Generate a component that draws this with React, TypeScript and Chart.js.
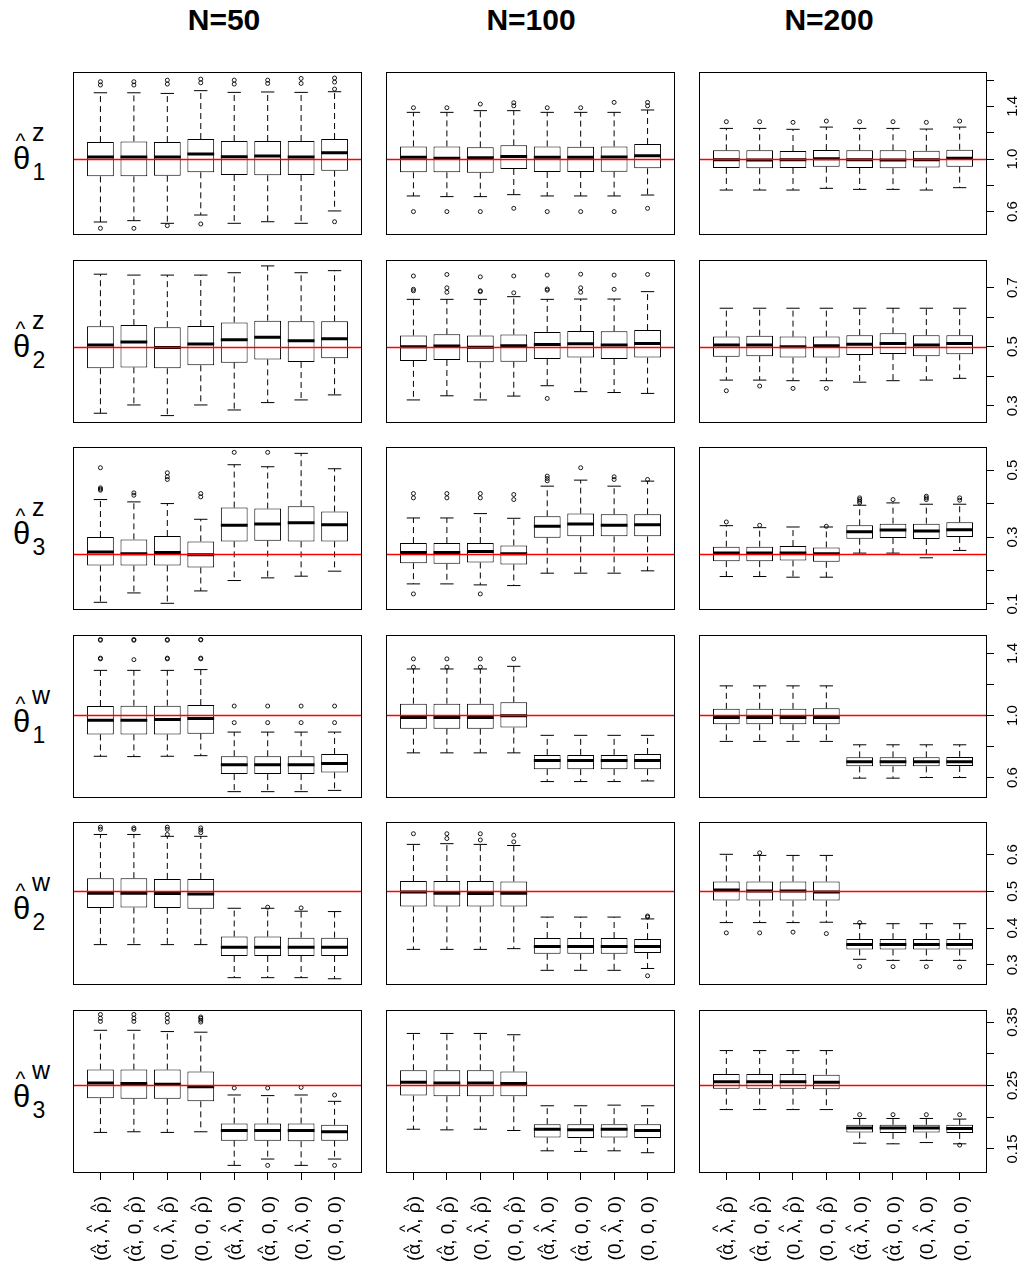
import React, { useEffect, useRef } from "react";
import { Chart, registerables } from "chart.js";
Chart.register(...registerables);

const FONT = '"Liberation Sans", Arial, Helvetica, sans-serif';

// ---------- text ----------
const categories = [
  "(\u03B1\u0302, \u03BB\u0302, \u03C1\u0302)",
  "(\u03B1\u0302, 0, \u03C1\u0302)",
  "(0, \u03BB\u0302, \u03C1\u0302)",
  "(0, 0, \u03C1\u0302)",
  "(\u03B1\u0302, \u03BB\u0302, 0)",
  "(\u03B1\u0302, 0, 0)",
  "(0, \u03BB\u0302, 0)",
  "(0, 0, 0)",
];
const sampleSizes = ["N=50", "N=100", "N=200"];
const rowSup = ["z", "z", "z", "w", "w", "w"];
const rowSub = ["1", "2", "3", "1", "2", "3"];
const trueValues = [1.0, 0.5, 0.25, 1.0, 0.5, 0.25];

// ---------- axes ----------
const yRanges = [
  [0.422, 1.662],
  [0.242, 0.793],
  [0.082, 0.569],
  [0.468, 1.519],
  [0.245, 0.689],
  [0.112, 0.369],
];
const yTicks = [
  [0.6, 0.8, 1.0, 1.2, 1.4, 1.6],
  [0.3, 0.4, 0.5, 0.6, 0.7],
  [0.1, 0.2, 0.3, 0.4, 0.5],
  [0.6, 0.8, 1.0, 1.2, 1.4],
  [0.3, 0.4, 0.5, 0.6],
  [0.15, 0.2, 0.25, 0.3, 0.35],
];
const yTickLabels = [
  [0.6, 1.0, 1.4],
  [0.3, 0.5, 0.7],
  [0.1, 0.3, 0.5],
  [0.6, 1.0, 1.4],
  [0.3, 0.4, 0.5, 0.6],
  [0.15, 0.25, 0.35],
];
const yTickDigits = [1, 1, 1, 1, 1, 2];
const xPositions = [1, 2, 3, 4, 5, 6, 7, 8];

// ---------- data: [lower whisker, Q1, median, Q3, upper whisker] ----------
// theta1 z
const z1_N50 = [
  [0.521, 0.868, 1.015, 1.129, 1.504],
  [0.531, 0.868, 1.015, 1.134, 1.504],
  [0.511, 0.873, 1.015, 1.129, 1.499],
  [0.574, 0.899, 1.038, 1.152, 1.52],
  [0.511, 0.878, 1.018, 1.137, 1.507],
  [0.523, 0.876, 1.023, 1.137, 1.51],
  [0.511, 0.878, 1.015, 1.137, 1.507],
  [0.605, 0.911, 1.048, 1.152, 1.512],
];
const z1_N50_out = [
  [1.588, 1.563, 0.473], [1.588, 1.563, 0.473], [1.6, 1.57, 0.493], [1.608, 1.58, 0.506],
  [1.6, 1.57], [1.6, 1.575], [1.613, 1.575], [1.616, 1.585, 1.532, 0.523],
];
const z1_N100 = [
  [0.719, 0.899, 1.013, 1.096, 1.355],
  [0.714, 0.899, 1.005, 1.096, 1.355],
  [0.714, 0.896, 1.01, 1.089, 1.368],
  [0.729, 0.924, 1.02, 1.104, 1.368],
  [0.719, 0.901, 1.013, 1.096, 1.355],
  [0.719, 0.901, 1.013, 1.094, 1.355],
  [0.719, 0.904, 1.015, 1.096, 1.355],
  [0.726, 0.929, 1.025, 1.114, 1.373],
];
const z1_N100_out = [
  [1.39, 0.6], [1.39, 0.6], [1.418, 0.6], [1.428, 1.405, 0.625],
  [1.39, 0.6], [1.39, 0.6], [1.431, 0.6], [1.431, 1.405, 0.625],
];
const z1_N200 = [
  [0.764, 0.932, 0.995, 1.066, 1.233],
  [0.764, 0.93, 0.993, 1.066, 1.233],
  [0.764, 0.932, 0.995, 1.061, 1.226],
  [0.777, 0.942, 1.003, 1.068, 1.243],
  [0.769, 0.932, 0.995, 1.066, 1.233],
  [0.769, 0.93, 0.993, 1.066, 1.233],
  [0.764, 0.935, 0.995, 1.063, 1.228],
  [0.782, 0.942, 1.005, 1.071, 1.243],
];
const z1_N200_out = [[1.284], [1.284], [1.279], [1.289], [1.284], [1.284], [1.279], [1.289]];

// theta2 z
const z2_N50 = [
  [0.275, 0.427, 0.506, 0.569, 0.745],
  [0.303, 0.43, 0.516, 0.573, 0.742],
  [0.267, 0.427, 0.497, 0.566, 0.742],
  [0.303, 0.437, 0.509, 0.57, 0.742],
  [0.286, 0.446, 0.523, 0.582, 0.75],
  [0.311, 0.457, 0.532, 0.588, 0.773],
  [0.32, 0.448, 0.52, 0.586, 0.75],
  [0.337, 0.461, 0.527, 0.586, 0.757],
];
const z2_N50_out = [[], [], [], [], [], [], [], []];
const z2_N100 = [
  [0.32, 0.452, 0.5, 0.538, 0.66],
  [0.334, 0.455, 0.502, 0.542, 0.66],
  [0.32, 0.447, 0.498, 0.538, 0.66],
  [0.333, 0.449, 0.503, 0.541, 0.669],
  [0.368, 0.458, 0.507, 0.55, 0.66],
  [0.348, 0.463, 0.51, 0.553, 0.661],
  [0.345, 0.458, 0.506, 0.552, 0.661],
  [0.342, 0.463, 0.511, 0.556, 0.686],
];
const z2_N100_out = [
  [0.739, 0.694, 0.689], [0.744, 0.699, 0.684], [0.736, 0.689, 0.686], [0.739, 0.682],
  [0.742, 0.695, 0.691, 0.325], [0.745, 0.699, 0.684], [0.742, 0.694], [0.744],
];
const z2_N200 = [
  [0.387, 0.466, 0.506, 0.534, 0.63],
  [0.387, 0.468, 0.506, 0.537, 0.63],
  [0.385, 0.463, 0.5, 0.534, 0.63],
  [0.385, 0.463, 0.503, 0.534, 0.63],
  [0.38, 0.472, 0.508, 0.539, 0.63],
  [0.385, 0.475, 0.511, 0.545, 0.63],
  [0.387, 0.468, 0.506, 0.539, 0.63],
  [0.393, 0.474, 0.511, 0.539, 0.63],
];
const z2_N200_out = [[0.351], [0.367], [0.359], [0.359], [], [], [], []];

// theta3 z
const z3_N50 = [
  [0.105, 0.215, 0.255, 0.3, 0.412],
  [0.133, 0.215, 0.25, 0.293, 0.405],
  [0.102, 0.215, 0.254, 0.303, 0.4],
  [0.139, 0.209, 0.247, 0.287, 0.353],
  [0.17, 0.287, 0.335, 0.388, 0.516],
  [0.178, 0.289, 0.339, 0.385, 0.51],
  [0.183, 0.287, 0.343, 0.392, 0.55],
  [0.198, 0.287, 0.337, 0.376, 0.504],
];
const z3_N50_out = [
  [0.507, 0.447, 0.443, 0.44], [0.432, 0.425], [0.492, 0.48, 0.472], [0.43, 0.42],
  [0.553], [0.553], [], [],
];
const z3_N100 = [
  [0.16, 0.222, 0.254, 0.282, 0.357],
  [0.16, 0.22, 0.254, 0.282, 0.357],
  [0.157, 0.224, 0.257, 0.282, 0.37],
  [0.155, 0.218, 0.25, 0.275, 0.356],
  [0.192, 0.298, 0.332, 0.362, 0.452],
  [0.192, 0.302, 0.339, 0.37, 0.47],
  [0.192, 0.302, 0.335, 0.368, 0.452],
  [0.199, 0.302, 0.337, 0.368, 0.467],
];
const z3_N100_out = [
  [0.43, 0.417, 0.13], [0.43, 0.417], [0.43, 0.417, 0.13], [0.427, 0.412],
  [0.482, 0.475, 0.468], [0.507], [0.48, 0.472], [0.472],
];
const z3_N200 = [
  [0.182, 0.228, 0.252, 0.271, 0.334],
  [0.182, 0.228, 0.252, 0.271, 0.328],
  [0.18, 0.23, 0.252, 0.273, 0.33],
  [0.18, 0.226, 0.25, 0.269, 0.33],
  [0.252, 0.295, 0.316, 0.335, 0.395],
  [0.252, 0.297, 0.321, 0.34, 0.402],
  [0.238, 0.294, 0.318, 0.34, 0.398],
  [0.26, 0.3, 0.322, 0.344, 0.398],
];
const z3_N200_out = [
  [0.345], [0.335], [], [0.332],
  [0.417, 0.412, 0.407, 0.402], [0.412], [0.422, 0.417, 0.412], [0.417, 0.41],
];

// theta1 w
const w1_N50 = [
  [0.737, 0.878, 0.97, 1.061, 1.291],
  [0.735, 0.878, 0.97, 1.063, 1.291],
  [0.737, 0.878, 0.974, 1.063, 1.291],
  [0.741, 0.883, 0.98, 1.067, 1.296],
  [0.509, 0.622, 0.683, 0.737, 0.893],
  [0.509, 0.622, 0.683, 0.737, 0.893],
  [0.509, 0.622, 0.683, 0.737, 0.893],
  [0.517, 0.633, 0.691, 0.752, 0.893],
];
const w1_N50_out = [
  [1.485, 1.49, 1.365, 1.37], [1.485, 1.49, 1.36], [1.485, 1.49, 1.365, 1.37], [1.487, 1.49, 1.365, 1.37],
  [1.061, 0.954], [1.061, 0.954], [1.061, 0.954], [1.061, 0.954],
];
const w1_N100 = [
  [0.759, 0.915, 0.987, 1.076, 1.3],
  [0.759, 0.915, 0.987, 1.076, 1.3],
  [0.759, 0.915, 0.987, 1.076, 1.3],
  [0.759, 0.922, 0.998, 1.085, 1.317],
  [0.574, 0.654, 0.709, 0.746, 0.872],
  [0.574, 0.654, 0.709, 0.746, 0.872],
  [0.574, 0.654, 0.709, 0.746, 0.872],
  [0.578, 0.654, 0.709, 0.752, 0.872],
];
const w1_N100_out = [[1.365, 1.312], [1.365, 1.312], [1.365, 1.312], [1.365], [], [], [], []];
const w1_N200 = [
  [0.833, 0.943, 0.987, 1.043, 1.191],
  [0.833, 0.943, 0.987, 1.043, 1.191],
  [0.833, 0.943, 0.987, 1.043, 1.191],
  [0.833, 0.943, 0.987, 1.046, 1.191],
  [0.596, 0.672, 0.702, 0.73, 0.811],
  [0.596, 0.672, 0.702, 0.73, 0.811],
  [0.6, 0.672, 0.702, 0.73, 0.811],
  [0.6, 0.674, 0.702, 0.733, 0.811],
];
const w1_N200_out = [[], [], [], [], [], [], [], []];

// theta2 w
const w2_N50 = [
  [0.355, 0.455, 0.495, 0.536, 0.655],
  [0.355, 0.456, 0.495, 0.536, 0.655],
  [0.355, 0.455, 0.494, 0.534, 0.65],
  [0.355, 0.453, 0.493, 0.534, 0.65],
  [0.265, 0.324, 0.348, 0.377, 0.454],
  [0.265, 0.324, 0.348, 0.377, 0.454],
  [0.265, 0.324, 0.348, 0.374, 0.446],
  [0.262, 0.324, 0.348, 0.374, 0.445],
];
const w2_N50_out = [
  [0.675, 0.669], [0.673, 0.669], [0.675, 0.669, 0.655], [0.673, 0.667, 0.66],
  [], [0.457], [0.455], [],
];
const w2_N100 = [
  [0.342, 0.459, 0.498, 0.528, 0.628],
  [0.342, 0.459, 0.495, 0.528, 0.63],
  [0.342, 0.459, 0.494, 0.528, 0.628],
  [0.344, 0.459, 0.495, 0.527, 0.625],
  [0.285, 0.33, 0.35, 0.373, 0.43],
  [0.285, 0.33, 0.35, 0.373, 0.43],
  [0.285, 0.33, 0.35, 0.373, 0.43],
  [0.29, 0.332, 0.35, 0.37, 0.425],
];
const w2_N100_out = [[0.657], [0.657, 0.644], [0.657, 0.64], [0.653, 0.635], [], [], [], [0.433, 0.43, 0.27]];
const w2_N200 = [
  [0.415, 0.475, 0.504, 0.527, 0.601],
  [0.415, 0.475, 0.501, 0.527, 0.598],
  [0.415, 0.475, 0.501, 0.527, 0.598],
  [0.416, 0.475, 0.498, 0.527, 0.598],
  [0.315, 0.342, 0.355, 0.37, 0.412],
  [0.312, 0.342, 0.355, 0.37, 0.412],
  [0.312, 0.342, 0.355, 0.37, 0.412],
  [0.312, 0.342, 0.355, 0.37, 0.412],
];
const w2_N200_out = [[0.387], [0.605, 0.387], [0.389], [0.385], [0.415, 0.295], [0.295], [0.295], [0.294]];

// theta3 w
const w3_N50 = [
  [0.176, 0.23, 0.254, 0.275, 0.337],
  [0.177, 0.229, 0.253, 0.275, 0.337],
  [0.176, 0.229, 0.252, 0.275, 0.335],
  [0.177, 0.225, 0.248, 0.272, 0.334],
  [0.124, 0.163, 0.179, 0.19, 0.235],
  [0.134, 0.163, 0.179, 0.19, 0.234],
  [0.124, 0.162, 0.179, 0.19, 0.235],
  [0.134, 0.163, 0.177, 0.188, 0.225],
];
const w3_N50_out = [
  [0.362, 0.356, 0.351], [0.362, 0.356, 0.351], [0.362, 0.356, 0.35], [0.358, 0.356, 0.353, 0.35],
  [0.246], [0.246, 0.124], [0.247], [0.235, 0.124],
];
const w3_N100 = [
  [0.181, 0.234, 0.255, 0.274, 0.332],
  [0.18, 0.233, 0.254, 0.274, 0.332],
  [0.181, 0.233, 0.254, 0.274, 0.332],
  [0.179, 0.233, 0.253, 0.272, 0.33],
  [0.147, 0.168, 0.181, 0.189, 0.218],
  [0.146, 0.167, 0.18, 0.189, 0.218],
  [0.147, 0.168, 0.181, 0.189, 0.219],
  [0.144, 0.167, 0.179, 0.189, 0.218],
];
const w3_N100_out = [[], [], [], [], [], [], [], []];
const w3_N200 = [
  [0.212, 0.245, 0.256, 0.268, 0.305],
  [0.212, 0.245, 0.256, 0.268, 0.305],
  [0.212, 0.245, 0.256, 0.268, 0.305],
  [0.212, 0.244, 0.255, 0.267, 0.305],
  [0.159, 0.176, 0.183, 0.188, 0.198],
  [0.158, 0.175, 0.183, 0.188, 0.198],
  [0.16, 0.176, 0.183, 0.188, 0.198],
  [0.158, 0.175, 0.182, 0.188, 0.197],
];
const w3_N200_out = [[], [], [], [], [0.204], [0.204], [0.204], [0.204, 0.156]];

const panelStats = [
  [z1_N50, z1_N100, z1_N200],
  [z2_N50, z2_N100, z2_N200],
  [z3_N50, z3_N100, z3_N200],
  [w1_N50, w1_N100, w1_N200],
  [w2_N50, w2_N100, w2_N200],
  [w3_N50, w3_N100, w3_N200],
];
const panelOutliers = [
  [z1_N50_out, z1_N100_out, z1_N200_out],
  [z2_N50_out, z2_N100_out, z2_N200_out],
  [z3_N50_out, z3_N100_out, z3_N200_out],
  [w1_N50_out, w1_N100_out, w1_N200_out],
  [w2_N50_out, w2_N100_out, w2_N200_out],
  [w3_N50_out, w3_N100_out, w3_N200_out],
];

// ---------- layout ----------
const COL_LEFT = [73, 386, 699];
const COL_W = [289, 289, 288];
const ROW_TOP = [72, 260, 447, 635, 822, 1010];
const PANEL_H = 163;
const AXIS_W = 36;
const AXIS_H = 90;
const X_MIN = 0.18;
const X_MAX = 8.82;
const TITLE_X = [224, 531, 829];
const LABEL_FS = 19;

// split "α\u0302" style strings into glyph tokens with a hat flag
function tokenize(s: string) {
  const out: { ch: string; hat: boolean }[] = [];
  for (const ch of Array.from(s)) {
    if (ch === "\u0302") {
      if (out.length) out[out.length - 1].hat = true;
    } else out.push({ ch, hat: false });
  }
  return out;
}

function Panel({ row, col }: { row: number; col: number }) {
  const ref = useRef<HTMLCanvasElement>(null);
  const isRight = col === 2;
  const isBottom = row === 5;
  const padT = isRight ? 11 : 1;
  const padB = isBottom ? 0 : isRight ? 11 : 1;
  const cw = 1 + COL_W[col] + (isRight ? AXIS_W : 1);
  const ch = padT + PANEL_H + (isBottom ? AXIS_H : padB);

  useEffect(() => {
    const canvas = ref.current;
    if (!canvas) return;
    const stats = panelStats[row][col];
    const outs = panelOutliers[row][col];
    const tv = trueValues[row];

    const boxData = stats.map((s, i) => ({ x: xPositions[i], y: [s[1], s[3]] }));
    const medData: any[] = [];
    const whiskData: any[] = [];
    const capData: any[] = [];
    stats.forEach((s, i) => {
      const x = xPositions[i];
      medData.push({ x: x - 0.4, y: s[2] }, { x: x + 0.4, y: s[2] }, { x, y: null });
      whiskData.push({ x, y: s[3] }, { x, y: s[4] }, { x, y: null }, { x, y: s[1] }, { x, y: s[0] }, { x, y: null });
      capData.push(
        { x: x - 0.2, y: s[4] }, { x: x + 0.2, y: s[4] }, { x, y: null },
        { x: x - 0.2, y: s[0] }, { x: x + 0.2, y: s[0] }, { x, y: null }
      );
    });
    const outData: any[] = [];
    outs.forEach((o, i) => o.forEach((v) => outData.push({ x: xPositions[i], y: v })));

    const lineCommon = { pointRadius: 0, spanGaps: false, tension: 0, fill: false };

    const deco = {
      id: "deco" + row + "_" + col,
      afterDraw(chart: any) {
        const { ctx, chartArea: a } = chart;
        ctx.save();
        // reference line at the true value
        const py = Math.round(chart.scales.y.getPixelForValue(tv)) + 0.5;
        ctx.strokeStyle = "#ff0000";
        ctx.lineWidth = 1.5;
        ctx.beginPath();
        ctx.moveTo(a.left + 1, py);
        ctx.lineTo(a.right - 1, py);
        ctx.stroke();
        // panel frame
        ctx.strokeStyle = "#000";
        ctx.lineWidth = 1;
        ctx.strokeRect(a.left + 0.5, a.top + 0.5, a.right - a.left - 1, a.bottom - a.top - 1);
        ctx.fillStyle = "#000";
        if (isRight) {
          const ys = chart.scales.y;
          ctx.font = `15px ${FONT}`;
          ctx.textAlign = "center";
          ctx.textBaseline = "middle";
          yTickLabels[row].forEach((v) => {
            const p = ys.getPixelForValue(v);
            ctx.save();
            ctx.translate(a.right + 26, p);
            ctx.rotate(-Math.PI / 2);
            ctx.fillText(v.toFixed(yTickDigits[row]), 0, 0);
            ctx.restore();
          });
        }
        if (isBottom) {
          const xs = chart.scales.x;
          const fs = LABEL_FS;
          const hatFs = 15;
          categories.forEach((lab, i) => {
            const toks = tokenize(lab);
            ctx.font = `${fs}px ${FONT}`;
            const widths = toks.map((t) => ctx.measureText(t.ch).width);
            const total = widths.reduce((p, c) => p + c, 0);
            const px = xs.getPixelForValue(xPositions[i]);
            ctx.save();
            ctx.translate(px, a.bottom + 23);
            ctx.rotate(-Math.PI / 2);
            ctx.textAlign = "left";
            ctx.textBaseline = "alphabetic";
            const by = fs * 0.36;
            let x = -total;
            toks.forEach((t, k) => {
              ctx.font = `${fs}px ${FONT}`;
              ctx.fillText(t.ch, x, by);
              if (t.hat) {
                const tall = t.ch === "\u03BB";
                const topY = by - fs * (tall ? 0.73 : 0.53);
                ctx.font = `${hatFs}px ${FONT}`;
                const hw = ctx.measureText("^").width;
                ctx.fillText("^", x + widths[k] / 2 - hw / 2, topY - 1.5 + hatFs * 0.334);
              }
              x += widths[k];
            });
            ctx.restore();
          });
        }
        ctx.restore();
      },
    };

    const chart = new Chart(canvas, {
      type: "bar",
      data: {
        datasets: [
          {
            type: "scatter",
            data: outData,
            pointRadius: 2,
            pointBorderWidth: 0.9,
            pointBorderColor: "#000",
            pointBackgroundColor: "rgba(0,0,0,0)",
            pointStyle: "circle",
          } as any,
          { type: "line", data: medData, borderColor: "#000", borderWidth: 3, borderCapStyle: "butt", ...lineCommon } as any,
          {
            type: "bar",
            data: boxData,
            backgroundColor: "#ffffff",
            borderColor: "#000",
            borderWidth: 1,
            borderSkipped: false,
            categoryPercentage: 0.8,
            barPercentage: 1.0,
          } as any,
          { type: "line", data: capData, borderColor: "#000", borderWidth: 1, ...lineCommon } as any,
          { type: "line", data: whiskData, borderColor: "#000", borderWidth: 1, borderDash: [6, 4], ...lineCommon } as any,
        ],
      },
      options: {
        animation: false,
        responsive: false,
        devicePixelRatio: 1,
        events: [],
        layout: { autoPadding: false, padding: { left: 1, top: padT, right: isRight ? 0 : 1, bottom: padB } },
        plugins: { legend: { display: false }, tooltip: { enabled: false }, title: { display: false } },
        scales: {
          x: {
            type: "linear",
            min: X_MIN,
            max: X_MAX,
            offset: false,
            display: isBottom,
            afterBuildTicks: (s: any) => {
              s.ticks = xPositions.map((v) => ({ value: v }));
            },
            afterFit: (s: any) => {
              if (isBottom) s.height = AXIS_H;
            },
            grid: { display: true, offset: false, drawOnChartArea: false, drawTicks: true, tickLength: 7, color: "#000", lineWidth: 1 },
            border: { display: false },
            ticks: { display: false, autoSkip: false },
          },
          y: {
            type: "linear",
            min: yRanges[row][0],
            max: yRanges[row][1],
            beginAtZero: false,
            position: "right",
            display: isRight,
            afterBuildTicks: (s: any) => {
              s.ticks = yTicks[row].map((v) => ({ value: v }));
            },
            afterFit: (s: any) => {
              if (isRight) s.width = AXIS_W;
            },
            grid: { display: true, offset: false, drawOnChartArea: false, drawTicks: true, tickLength: 7, color: "#000", lineWidth: 1 },
            border: { display: false },
            ticks: { display: false },
          },
        },
      } as any,
      plugins: [deco],
    });
    return () => chart.destroy();
  }, [row, col]);

  return (
    <canvas
      ref={ref}
      width={cw}
      height={ch}
      style={{ position: "absolute", left: COL_LEFT[col] - 1, top: ROW_TOP[row] - padT, width: cw, height: ch }}
    />
  );
}

function RowLabel({ row }: { row: number }) {
  const cy = ROW_TOP[row] + PANEL_H / 2;
  const base: React.CSSProperties = { position: "absolute", fontFamily: FONT, color: "#000", whiteSpace: "pre" };
  return (
    <div style={{ position: "absolute", left: 0, top: cy, width: 70, height: 0 }}>
      <span style={{ ...base, left: 13, top: -11, fontSize: 31, lineHeight: "31px" }}>{"\u03B8"}</span>
      <span style={{ ...base, left: 15.5, top: -24, fontSize: 21, lineHeight: "21px" }}>^</span>
      <span style={{ ...base, left: 32, top: -34, fontSize: 25, lineHeight: "25px" }}>{rowSup[row]}</span>
      <span style={{ ...base, left: 32.5, top: 7, fontSize: 23, lineHeight: "23px" }}>{rowSub[row]}</span>
    </div>
  );
}

export default function App() {
  const panels: React.ReactNode[] = [];
  for (let r = 0; r < 6; r++) for (let c = 0; c < 3; c++) panels.push(<Panel key={`${r}-${c}`} row={r} col={c} />);
  return (
    <div
      style={{
        position: "fixed",
        left: 0,
        top: 0,
        width: 1026,
        height: 1266,
        overflow: "hidden",
        background: "#fff",
      }}
    >
      {sampleSizes.map((t, i) => (
        <div
          key={t}
          style={{
            position: "absolute",
            left: TITLE_X[i],
            top: 4.5,
            transform: "translateX(-50%)",
            fontFamily: FONT,
            fontWeight: "bold",
            fontSize: 30,
            lineHeight: "30px",
            whiteSpace: "pre",
            color: "#000",
          }}
        >
          {t}
        </div>
      ))}
      {[0, 1, 2, 3, 4, 5].map((r) => (
        <RowLabel key={r} row={r} />
      ))}
      {panels}
    </div>
  );
}
